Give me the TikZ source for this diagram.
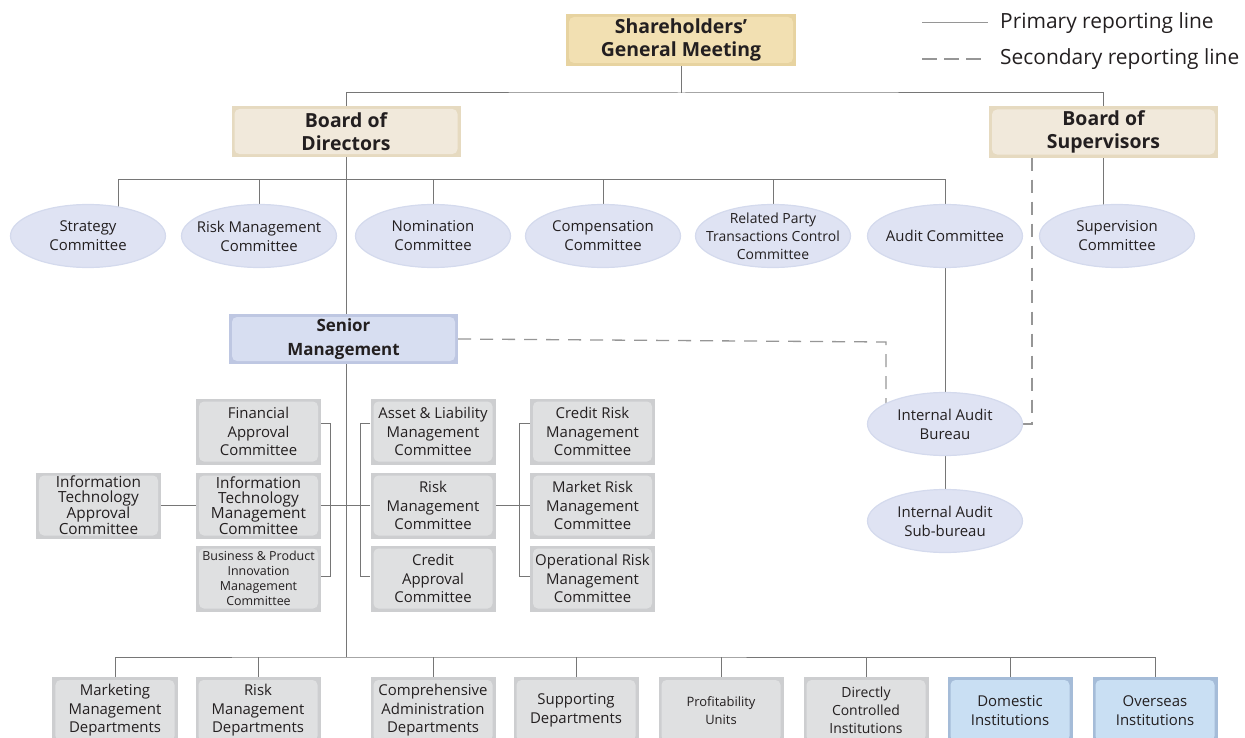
\documentclass[tikz,border=0pt]{standalone}
\usepackage{fontspec}
\setmainfont{Open Sans}
\usepackage{xcolor}
\usepackage{tikz}
\usetikzlibrary{shapes.geometric,backgrounds,calc}

\definecolor{txt}{RGB}{35,31,32}
\definecolor{goldfill}{RGB}{242,224,178}
\definecolor{goldedge}{RGB}{231,211,160}
\definecolor{beigefill}{RGB}{241,233,219}
\definecolor{beigeedge}{RGB}{230,218,192}
\definecolor{smfill}{RGB}{215,222,241}
\definecolor{smedge}{RGB}{190,199,226}
\definecolor{ellfill}{RGB}{223,227,243}
\definecolor{elledge}{RGB}{212,218,237}
\definecolor{grayfill}{RGB}{223,224,225}
\definecolor{grayedge}{RGB}{205,206,208}
\definecolor{bluefill}{RGB}{201,223,243}
\definecolor{blueedge}{RGB}{165,188,216}
\definecolor{linecol}{RGB}{118,118,118}
\definecolor{dashcol}{RGB}{150,150,150}

\newcommand\fhead{\bfseries\fontsize{19.5}{23}\selectfont}
\newcommand\fsen{\bfseries\fontsize{17}{24}\selectfont}
\newcommand\flegend{\fontsize{21}{24}\selectfont}
\newcommand\fcomm{\fontsize{15}{19}\selectfont}
\newcommand\fcbox{\fontsize{15}{18.5}\selectfont}
\newcommand\fsmall{\fontsize{14}{18}\selectfont}
\newcommand\ftight{\fontsize{15.4}{15}\selectfont}
\newcommand\ftiny{\fontsize{12.5}{15}\selectfont}
\newcommand\fprof{\fontsize{13}{18}\selectfont}
\newcommand\fdci{\fontsize{14}{18}\selectfont}

\begin{document}
\begin{tikzpicture}[x=1bp,y=-1bp,
	panel/.style={rectangle, inner sep=0pt, align=center, text=txt, fill=#1edge,
		path picture={\fill[#1fill, rounded corners=5bp] ([shift={(3bp,-3bp)}]path picture bounding box.north west) rectangle ([shift={(-3bp,3bp)}]path picture bounding box.south east);}},
	board/.style={panel=beige, minimum width=229bp, minimum height=51bp, font=\fhead},
	comm/.style={ellipse, fill=ellfill, draw=elledge, line width=1.2bp, minimum width=155bp, minimum height=63bp, inner xsep=-16bp, inner ysep=-7bp, align=center, text=txt, font=\fcomm},
	cbox/.style={panel=gray, minimum width=125bp, minimum height=66bp, font=\fcbox},
	dept/.style={panel=#1, minimum width=125bp, minimum height=67bp, font=\fcbox},
	pri/.style={draw=linecol, line width=1bp},
	sec/.style={draw=dashcol, line width=1.3bp, dash pattern=on 13bp off 9bp}]
	\useasboundingbox (0,0) rectangle (1245,738);

	\node[panel=gold, minimum width=230bp, minimum height=52bp, font=\fhead] (sgm) at (681,40) {Shareholders'\\General Meeting};
	\node[board] (bod) at (346,131.5) {Board of\\Directors};
	\node[board] (bos) at (1103.5,132) {Board of\\Supervisors};

	\node[anchor=west, inner sep=6bp, text=txt, font=\flegend] (leg1) at (994,23) {Primary reporting line};
	\node[anchor=west, inner sep=6bp, text=txt, font=\flegend] (leg2) at (994,59) {Secondary reporting line};
	\coordinate (leg1a) at (922,23);
	\coordinate (leg2a) at (922,59);
	\draw[pri, draw=dashcol] (leg1a) -- ([xshift=-6bp]leg1.west);
	\draw[sec, dash pattern=on 15bp off 7bp] (leg2a) -- ([xshift=-6bp]leg2.west);

	\node[comm] (strat) at (88,236) {Strategy\\Committee};
	\node[comm] (riskc) at (259,236) {Risk Management\\Committee};
	\node[comm] (nom) at (433,236) {Nomination\\Committee};
	\node[comm] (comp) at (603,236) {Compensation\\Committee};
	\node[comm, font=\fsmall] (rpt) at (773,236) {Related Party\\Transactions Control\\Committee};
	\node[comm] (audit) at (945,236) {Audit Committee};
	\node[comm] (superv) at (1117,236) {Supervision\\Committee};

	\node[panel=sm, minimum width=229bp, minimum height=50bp, font=\fsen] (sm) at (343.5,339) {Senior\\Management};

	\node[comm] (iab) at (945,424) {Internal Audit\\Bureau};
	\node[comm] (iasb) at (945,521) {Internal Audit\\Sub-bureau};

	\node[cbox] (fin) at (258.5,431.5) {Financial\\Approval\\Committee};
	\node[cbox, font=\ftight] (itm) at (258.5,505.5) {Information\\Technology\\Management\\Committee};
	\node[cbox, font=\ftiny] (bpi) at (258.5,578.5) {Business \& Product\\Innovation\\Management\\Committee};
	\node[cbox, font=\ftight] (itapp) at (98.5,505.5) {Information\\Technology\\Approval\\Committee};
	\node[cbox] (alm) at (433,431.5) {Asset \& Liability\\Management\\Committee};
	\node[cbox] (rmc) at (433,505.5) {Risk\\Management\\Committee};
	\node[cbox] (cap) at (433,578.5) {Credit\\Approval\\Committee};
	\node[cbox] (crm) at (592.5,431.5) {Credit Risk\\Management\\Committee};
	\node[cbox] (mrm) at (592.5,505.5) {Market Risk\\Management\\Committee};
	\node[cbox] (orm) at (592.5,578.5) {Operational Risk\\Management\\Committee};

	\node[dept=gray] (mkt) at (115,710.5) {Marketing\\Management\\Departments};
	\node[dept=gray] (rdep) at (258,710.5) {Risk\\Management\\Departments};
	\node[dept=gray] (cad) at (433,710.5) {Comprehensive\\Administration\\Departments};
	\node[dept=gray] (sup) at (576,710.5) {Supporting\\Departments};
	\node[dept=gray, font=\fprof] (prof) at (721,710.5) {Profitability\\Units};
	\node[dept=gray, font=\fdci] (dci) at (866,710.5) {Directly\\Controlled\\Institutions};
	\node[dept=blue] (dom) at (1010,710.5) {Domestic\\Institutions};
	\node[dept=blue] (ovs) at (1155,710.5) {Overseas\\Institutions};

	\coordinate (tbus) at (681,93);
	\coordinate (cbus) at (118,179);
	\coordinate (dbus) at (346,657);
	\coordinate (dk) at (886,342);
	\coordinate (dv) at (1032,424);

	\begin{scope}[on background layer]
	\draw[pri] (sgm) -- (tbus);
	\draw[pri] (bod.north) |- (tbus) -| (bos.north);
	\draw[pri] (bod.south) -- (dbus);
	\draw[pri] (cbus) -- (cbus |- strat.center);
	\draw[pri] (cbus) -| (audit.center);
	\foreach \c in {riskc,nom,comp,rpt}
		\draw[pri] (\c.north) -- (\c.north |- cbus);
	\draw[pri] (bos.south) -- (bos.south |- superv.center);
	\draw[pri] (audit) -- (iab);
	\draw[pri] (iab) -- (iasb);
	\draw[sec] (sm.east) -- (dk) -- (dk |- iab.center);
	\draw[sec] (bos.south -| dv) -- (dv) -- (iab.east);

	\draw[pri] (itapp) -- (itm);
	\draw[pri] (itm.east) -- (rmc.west);
	\draw[pri] (rmc.east) -- (mrm.west);
	\draw[pri] ([yshift=8.5bp]fin.east) -- ++(9.5,0) |- ([yshift=2.5bp]bpi.east);
	\draw[pri] ([yshift=8.5bp]alm.west) -- ++(-10,0) |- ([yshift=2.5bp]cap.west);
	\draw[pri] ([yshift=8.5bp]crm.west) -- ++(-10,0) |- ([yshift=2.5bp]orm.west);

	\draw[pri] (mkt.north) |- (dbus) -| (ovs.north);
	\foreach \d in {rdep,cad,sup,prof,dci,dom}
		\draw[pri] (\d.north) -- (\d.north |- dbus);
	\end{scope}
\end{tikzpicture}
\end{document}
